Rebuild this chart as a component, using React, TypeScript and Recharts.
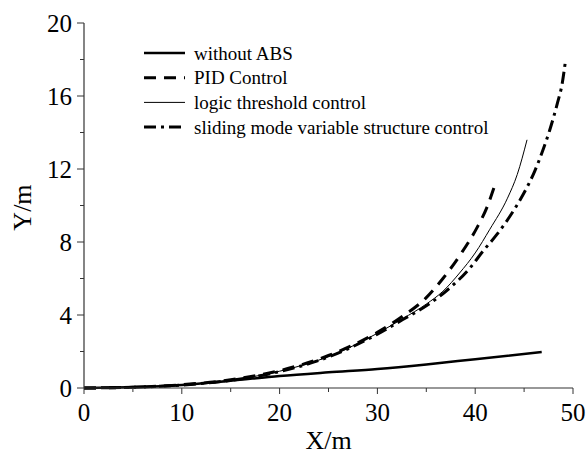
import { LineChart, Line, XAxis, YAxis, Legend } from 'recharts';

// track data (X/m, Y/m)
const withoutAbsX = [0, 5, 10, 15, 20, 25, 30, 35, 40, 46.8];
const withoutAbsY = [0, 0.05, 0.17, 0.4, 0.66, 0.86, 1.04, 1.29, 1.58, 1.97];

const pidX = [0, 5, 10, 15, 20, 25, 30, 32.5, 34.9, 36.7, 38.6, 40.2, 41.2, 42.0];
const pidY = [0, 0.04, 0.18, 0.45, 0.95, 1.78, 3.05, 3.9, 4.9, 6.0, 7.4, 8.8, 9.9, 11.1];

const logicX = [0, 5, 10, 15, 20, 25, 30, 32.6, 35, 36.7, 38.4, 40, 41.5, 43.3, 44.3, 45.3];
const logicY = [0, 0.04, 0.17, 0.43, 0.92, 1.72, 3.0, 3.8, 4.6, 5.3, 6.3, 7.4, 8.7, 10.4, 11.7, 13.6];

const slidingX = [0, 5, 10, 15, 20, 25, 30, 32.6, 35, 37, 39.5, 40.8, 42.2, 43.9, 44.9, 46.1, 46.9, 47.6, 48.4, 48.9, 49.2];
const slidingY = [0, 0.04, 0.16, 0.42, 0.9, 1.7, 2.95, 3.75, 4.5, 5.3, 6.6, 7.5, 8.4, 9.7, 10.6, 11.9, 13.0, 14.1, 15.6, 16.7, 17.8];

const xTicks = [0, 5, 10, 15, 20, 25, 30, 35, 40, 45, 50];
const yTicks = [0, 2, 4, 6, 8, 10, 12, 14, 16, 18, 20];

const toPoints = (xs: number[], ys: number[]) => xs.map((x, i) => ({ x, y: ys[i] }));

const series = [
  { name: 'without ABS', data: toPoints(withoutAbsX, withoutAbsY), width: 2.5, dash: undefined },
  { name: 'PID Control', data: toPoints(pidX, pidY), width: 3, dash: '12 8' },
  { name: 'logic threshold control', data: toPoints(logicX, logicY), width: 1, dash: undefined },
  { name: 'sliding mode variable structure control', data: toPoints(slidingX, slidingY), width: 3, dash: '12 5 3 5' },
];

const FONT = '"Liberation Serif", "Times New Roman", serif';
const AXIS = '#333';

function XTick({ x, y, payload }: any) {
  const major = payload.value % 10 === 0;
  return (
    <g>
      <line x1={x} x2={x} y1={y} y2={y + (major ? 6 : 4)} stroke={AXIS} strokeWidth={1} />
      {major && (
        <text x={x} y={y + 33} textAnchor='middle' fontSize={25} fontFamily={FONT} fill='#000'>
          {payload.value}
        </text>
      )}
    </g>
  );
}

function YTick({ x, y, payload }: any) {
  const major = payload.value % 4 === 0;
  return (
    <g>
      <line x1={x} x2={x - (major ? 7 : 4)} y1={y} y2={y} stroke={AXIS} strokeWidth={1} />
      {major && (
        <text x={x - 12} y={y} textAnchor='end' dominantBaseline='central' fontSize={25} fontFamily={FONT} fill='#000'>
          {payload.value}
        </text>
      )}
    </g>
  );
}

function renderXLabel({ viewBox }: any) {
  return (
    <text x={viewBox.x + viewBox.width / 2} y={viewBox.y + viewBox.height - 1} textAnchor='middle' fontSize={26} fontFamily={FONT} fill='#000'>
      X/m
    </text>
  );
}

function renderYLabel({ viewBox }: any) {
  const cx = viewBox.x + 31;
  const cy = viewBox.y + viewBox.height / 2 + 2;
  return (
    <text x={cx} y={cy} transform={`rotate(-90 ${cx} ${cy})`} textAnchor='middle' fontSize={26} fontFamily={FONT} fill='#000'>
      Y/m
    </text>
  );
}

function renderLegend() {
  return (
    <svg width={360} height={110} style={{ display: 'block' }}>
      {series.map((s, i) => {
        const cy = 15 + i * 24.7;
        return (
          <g key={s.name}>
            <line x1={4} x2={45} y1={cy} y2={cy} stroke='#000' strokeWidth={s.width} strokeDasharray={s.dash} />
            <text x={54} y={cy} dominantBaseline='central' fontSize={19} fontFamily={FONT} fill='#000'>
              {s.name}
            </text>
          </g>
        );
      })}
    </svg>
  );
}

export default function App() {
  return (
    <div style={{ position: 'absolute', left: 0, top: 0, background: '#fff' }}>
      <LineChart width={587} height={456} margin={{ top: 23, right: 14, left: 0, bottom: 6 }}>
        <XAxis
          dataKey='x'
          type='number'
          domain={[0, 50]}
          ticks={xTicks}
          interval={0}
          height={62}
          tickSize={0}
          tickMargin={0}
          tick={<XTick />}
          axisLine={{ stroke: AXIS, strokeWidth: 1.2 }}
          label={{ content: renderXLabel }}
        />
        <XAxis xAxisId='top' orientation='top' type='number' domain={[0, 50]} height={0} tick={false} tickLine={false} axisLine={{ stroke: AXIS, strokeWidth: 1.2 }} />
        <YAxis
          dataKey='y'
          type='number'
          domain={[0, 20]}
          ticks={yTicks}
          interval={0}
          width={84}
          tickSize={0}
          tickMargin={0}
          tick={<YTick />}
          axisLine={{ stroke: AXIS, strokeWidth: 1.2 }}
          label={{ content: renderYLabel }}
        />
        <YAxis yAxisId='right' orientation='right' type='number' domain={[0, 20]} width={0} tick={false} tickLine={false} axisLine={{ stroke: '#555', strokeWidth: 1.2 }} />
        <Legend
          layout='vertical'
          align='center'
          verticalAlign='middle'
          content={renderLegend}
          wrapperStyle={{ position: 'absolute', left: 140, top: 38, width: 360, height: 110 }}
        />
        {series.map((s) => (
          <Line
            key={s.name}
            name={s.name}
            data={s.data}
            dataKey='y'
            type='monotone'
            stroke='#000'
            strokeWidth={s.width}
            strokeDasharray={s.dash}
            dot={false}
            activeDot={false}
            isAnimationActive={false}
          />
        ))}
      </LineChart>
    </div>
  );
}
